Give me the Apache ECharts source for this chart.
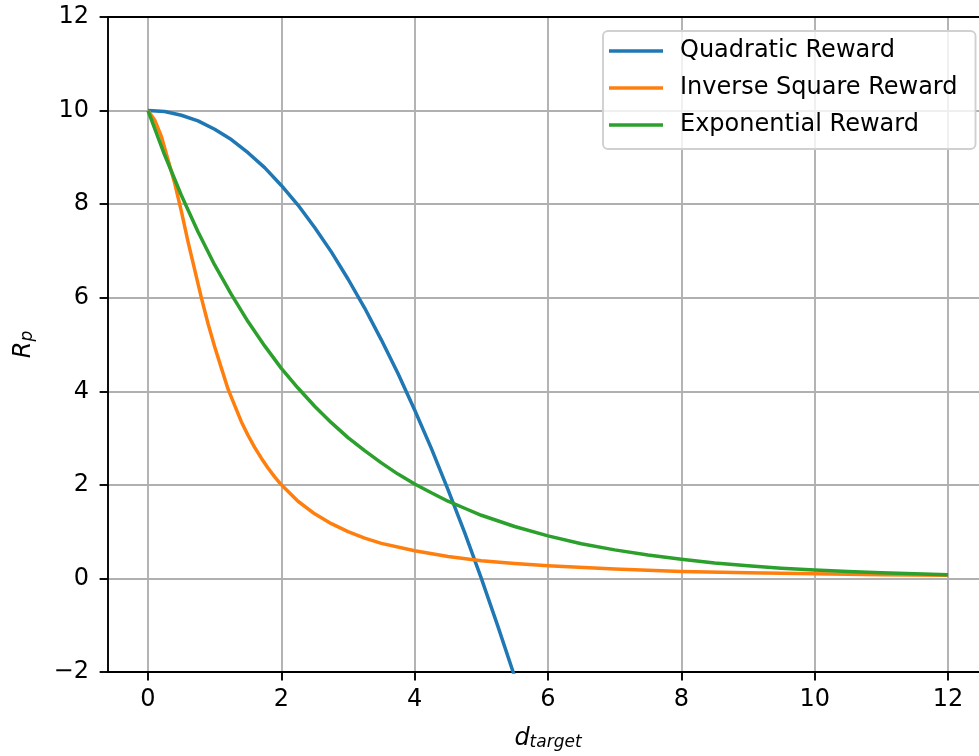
<!DOCTYPE html>
<html><head><meta charset="utf-8">
<script src="https://cdn.jsdelivr.net/npm/echarts@6/dist/echarts.min.js"></script>
<style>html,body{margin:0;padding:0;background:#fff}#c{width:979px;height:756px}</style>
</head><body><div id="c"></div>
<script>
const seriesNames = ['Quadratic Reward', 'Inverse Square Reward', 'Exponential Reward'];
const seriesColors = ['#1f77b4', '#ff7f0e', '#2ca02c'];

const quadD = [0, 0.25, 0.5, 0.75, 1, 1.25, 1.5, 1.75, 2, 2.25, 2.5, 2.75, 3, 3.25, 3.5, 3.75, 4, 4.25, 4.5, 4.75, 5, 5.25, 5.5];
const quadR = [10, 9.98, 9.9, 9.78, 9.6, 9.38, 9.1, 8.78, 8.4, 7.98, 7.5, 6.98, 6.4, 5.78, 5.1, 4.38, 3.6, 2.78, 1.9, 0.98, 0.0, -1.03, -2.1];

const invD = [0, 0.1, 0.2, 0.3, 0.4, 0.5, 0.6, 0.7, 0.8, 0.9, 1.0, 1.1, 1.2, 1.3, 1.4, 1.5, 1.6, 1.7, 1.8, 1.9, 2.0, 2.25, 2.5, 2.75, 3, 3.25, 3.5, 4, 4.5, 5, 5.5, 6, 7, 8, 9, 10, 11, 12];
const invR = [10, 9.8, 9.45, 8.95, 8.45, 7.85, 7.2, 6.6, 6.0, 5.45, 4.95, 4.5, 4.05, 3.7, 3.35, 3.06, 2.8, 2.57, 2.36, 2.17, 2.0, 1.65, 1.38, 1.17, 1.0, 0.86, 0.75, 0.59, 0.47, 0.38, 0.32, 0.27, 0.2, 0.15, 0.12, 0.1, 0.08, 0.07];

const expD = [0, 0.25, 0.5, 0.75, 1, 1.25, 1.5, 1.75, 2, 2.25, 2.5, 2.75, 3, 3.25, 3.5, 3.75, 4, 4.25, 4.5, 4.75, 5, 5.5, 6, 6.5, 7, 7.5, 8, 8.5, 9, 9.5, 10, 10.5, 11, 11.5, 12];
const expR = [10, 9.05, 8.19, 7.41, 6.70, 6.07, 5.49, 4.97, 4.49, 4.07, 3.68, 3.33, 3.01, 2.73, 2.47, 2.23, 2.02, 1.83, 1.65, 1.50, 1.35, 1.11, 0.91, 0.74, 0.61, 0.50, 0.41, 0.33, 0.27, 0.22, 0.18, 0.15, 0.12, 0.10, 0.08];

const xTicks = [0, 2, 4, 6, 8, 10, 12];
const yTickLabels = ['−2', '0', '2', '4', '6', '8', '10', '12'];

const FONT = 'DejaVu Sans';
const zip = (a, b) => a.map((v, i) => [v, b[i]]);
const seriesData = [zip(quadD, quadR), zip(invD, invR), zip(expD, expR)];

const nameRich = {
  a: { fontSize: 24, fontStyle: 'italic', fontFamily: FONT, color: '#000', lineHeight: 24, verticalAlign: 'bottom' },
  b: { fontSize: 17, fontStyle: 'italic', fontFamily: FONT, color: '#000', lineHeight: 24, verticalAlign: 'bottom' }
};

const chart = echarts.init(document.getElementById('c'), null, { renderer: 'canvas' });
chart.setOption({
  animation: false,
  backgroundColor: '#fff',
  grid: { left: 108, top: 17, width: 880, height: 655, containLabel: false, outerBoundsMode: 'none' },
  legend: {
    orient: 'vertical', left: 603, top: 31,
    padding: [8, 18, 12, 6], itemGap: 13,
    itemWidth: 54, itemHeight: 3.6, icon: 'rect',
    backgroundColor: 'rgba(255,255,255,0.8)',
    borderColor: '#d0d0d0', borderWidth: 1.9, borderRadius: 5,
    textStyle: { fontSize: 24, fontFamily: FONT, color: '#000', padding: [0, 0, 0, 12] },
    data: seriesNames
  },
  xAxis: [{
    type: 'value', min: -0.6, max: 12.6, position: 'bottom',
    axisLine: { show: true, onZero: false, lineStyle: { color: '#000', width: 1.9 } },
    axisTick: { show: true, customValues: xTicks, length: 8.4, inside: false, lineStyle: { color: '#000', width: 1.9 } },
    axisLabel: { customValues: xTicks, margin: 16, fontSize: 24, color: '#000', fontFamily: FONT },
    splitLine: { show: true, lineStyle: { color: '#b0b0b0', width: 1.9 } },
    name: '{a|d}{b|target}', nameLocation: 'middle', nameGap: 55,
    nameTextStyle: { rich: nameRich }
  }, {
    type: 'value', min: -0.6, max: 12.6, position: 'top',
    axisLine: { show: true, onZero: false, lineStyle: { color: '#000', width: 1.9 } },
    axisTick: { show: false }, axisLabel: { show: false }, splitLine: { show: false }
  }],
  yAxis: {
    type: 'value', min: -2, max: 12, interval: 2,
    axisLine: { show: true, onZero: false, lineStyle: { color: '#000', width: 1.9 } },
    axisTick: { show: true, length: 8.4, inside: false, lineStyle: { color: '#000', width: 1.9 } },
    axisLabel: { margin: 19, fontSize: 24, color: '#000', fontFamily: FONT,
      formatter: v => yTickLabels[Math.round((v + 2) / 2)] },
    splitLine: { show: true, lineStyle: { color: '#b0b0b0', width: 1.9 } },
    name: '{a|R}{b|p}', nameLocation: 'middle', nameGap: 72, nameRotate: 90,
    nameTextStyle: { rich: nameRich }
  },
  series: seriesNames.map((n, i) => ({
    name: n, type: 'line', data: seriesData[i], xAxisIndex: 0,
    smooth: false, symbol: 'none', clip: true,
    color: seriesColors[i],
    lineStyle: { color: seriesColors[i], width: 3.5, join: 'round' }
  }))
});
</script></body></html>
